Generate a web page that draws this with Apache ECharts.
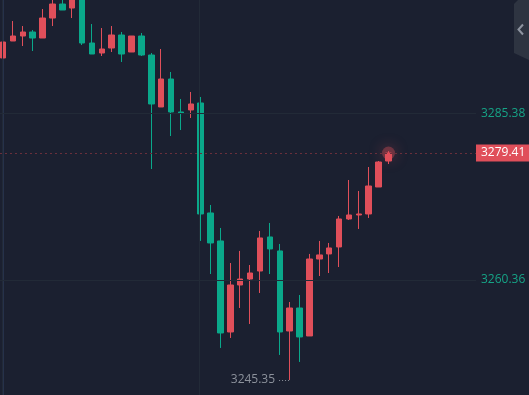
<!DOCTYPE html>
<html><head><meta charset="utf-8">
<script src="https://cdn.jsdelivr.net/npm/echarts@6/dist/echarts.min.js"></script>
<style>html,body{margin:0;padding:0;background:#1b2030;}#c{width:529px;height:395px;}</style>
</head><body><div id="c"></div>
<script>
// Candle values (oldest -> newest)
const opens  = [3293.68,3296.23,3296.98,3297.58,3296.68,3299.68,3301.78,3301.18,3302.90,3295.93,
                3294.43,3295.18,3297.13,3294.58,3296.98,3294.13,3286.33,3290.53,3285.58,3285.88,
                3286.93,3270.42,3266.22,3252.56,3259.61,3260.51,3261.71,3266.82,3264.72,3252.71,
                3256.16,3251.96,3263.51,3264.27,3265.32,3269.52,3270.12,3270.27,3274.32,3278.22];
const closes = [3296.08,3296.98,3297.58,3296.68,3299.68,3301.78,3300.88,3303.00,3295.93,3294.28,
                3295.03,3297.13,3294.28,3296.98,3294.13,3286.78,3290.53,3285.58,3285.43,3286.78,
                3270.27,3265.92,3252.41,3259.61,3260.51,3261.41,3266.67,3265.02,3252.56,3256.16,
                3251.81,3263.51,3264.12,3265.17,3269.52,3270.12,3270.27,3274.47,3278.07,3279.41];
const lows   = [3291.58,3296.23,3295.48,3294.73,3296.68,3298.48,3300.88,3299.68,3295.63,3294.28,
                3293.98,3294.58,3293.08,3294.58,3293.98,3277.02,3286.33,3281.97,3282.87,3284.68,
                3266.22,3261.26,3250.16,3251.66,3256.16,3253.76,3258.41,3261.26,3249.11,3245.35,
                3248.06,3251.96,3260.96,3261.41,3262.31,3269.37,3268.02,3269.67,3274.32,3277.77];
const highs  = [3296.10,3299.23,3298.48,3297.88,3301.03,3302.70,3302.80,3303.50,3303.40,3298.78,
                3298.18,3298.48,3297.58,3296.98,3297.43,3294.43,3295.03,3291.58,3287.53,3288.58,
                3287.83,3271.62,3268.17,3262.91,3264.72,3262.61,3267.72,3268.92,3265.77,3257.06,
                3258.11,3264.27,3266.22,3265.92,3269.97,3275.37,3273.72,3277.32,3278.22,3279.70];
const yTickLabels = [3285.38, 3260.36];
const vGridAt = [-0.1, 19.9];
const lastPrice = 3279.41;
const lowPrice = 3245.35;
const lowIndex = 29;

const UP = '#e04f5a', DOWN = '#0aa88a';
const FONT = 'Open Sans';
const candles = opens.map((o, i) => [i, o, closes[i], lows[i], highs[i]]);

const mlData = [];
yTickLabels.forEach(v => mlData.push({
  yAxis: v,
  lineStyle: {color: '#222a37', type: 'solid', width: 1},
  label: {show: true, position: 'end', distance: 5, color: '#16a386', fontSize: 12, fontFamily: FONT, formatter: v.toFixed(2)}
}));
vGridAt.forEach(v => mlData.push({
  xAxis: v,
  lineStyle: {color: '#222a37', type: 'solid', width: 1},
  label: {show: false}
}));
mlData.push({
  yAxis: lastPrice,
  lineStyle: {color: '#6a2f3b', type: [2, 3], width: 1},
  label: {show: true, position: 'end', distance: 0, backgroundColor: UP, color: '#ffffff',
          padding: [2, 6, 2, 5], lineHeight: 13, fontSize: 12, fontFamily: FONT, formatter: lastPrice.toFixed(2)}
});
mlData.push([
  {coord: [lowIndex - 1.07, lowPrice],
   lineStyle: {color: '#8c919b', type: [1, 2], width: 1},
   label: {show: true, position: 'start', distance: 4, color: '#8c919b', fontSize: 12, fontFamily: FONT, formatter: lowPrice.toFixed(2)}},
  {coord: [lowIndex, lowPrice]}
]);

const chart = echarts.init(document.getElementById('c'), null, {renderer: 'canvas'});
chart.setOption({
  backgroundColor: '#1b2030',
  animation: false,
  textStyle: {fontFamily: FONT},
  grid: {left: 0, right: 53, top: 0, bottom: 0},
  xAxis: {type: 'value', min: -0.3035, max: 47.85, show: false},
  yAxis: {type: 'value', position: 'right', min: 3243.1, max: 3302.385,
          axisLine: {show: true, lineStyle: {color: '#26314a'}},
          axisTick: {show: false}, axisLabel: {show: false}, splitLine: {show: false}},
  graphic: [
    {type: 'polygon', silent: true,
     shape: {points: [[514, 4], [518, 0], [529, 0], [529, 60], [514, 53]]},
     style: {fill: '#2e3441'}, z: 10},
    {type: 'polyline', silent: true,
     shape: {points: [[523, 24.5], [518.5, 29.5], [523, 34.5]]},
     style: {stroke: '#8e94a0', lineWidth: 2, fill: null}, z: 11}
  ],
  series: [
    {type: 'scatter', z: 1, silent: true,
     data: [[opens.length - 1, lastPrice]],
     symbolSize: 13,
     itemStyle: {color: 'rgba(224,79,90,0.45)', shadowBlur: 14, shadowColor: 'rgba(224,79,90,0.95)'},
     markLine: {symbol: ['none', 'none'], silent: true, animation: false, data: mlData}
    },
    {type: 'candlestick', z: 2, data: candles,
     encode: {x: 0, y: [1, 2, 3, 4]},
     barWidth: 6, clip: true,
     itemStyle: {color: UP, color0: DOWN, borderColor: UP, borderColor0: DOWN, borderWidth: 1}
    }
  ]
});
</script></body></html>
